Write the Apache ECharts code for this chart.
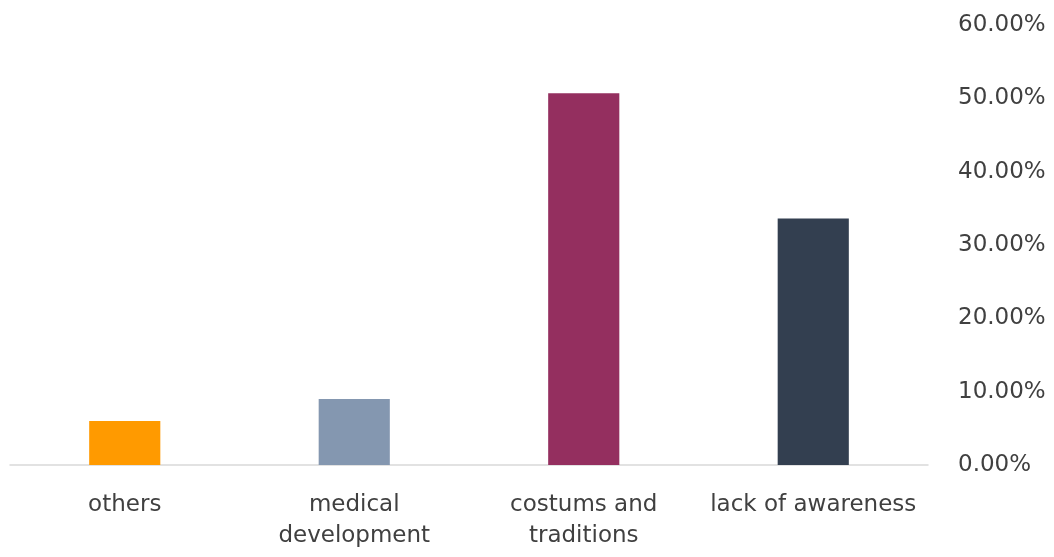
<!DOCTYPE html>
<html>
<head>
<meta charset="utf-8">
<style>
  html, body { margin: 0; padding: 0; background: #ffffff; }
  #chart { width: 1054px; height: 557px; }
</style>
<script src="https://cdn.jsdelivr.net/npm/echarts@6/dist/echarts.min.js"></script>
</head>
<body>
<div id="chart"></div>
<script>
// Reasons, share of answers (percent)
const categories = ['others', 'medical\ndevelopment', 'costums and\ntraditions', 'lack of awareness'];
const shares = [6.0, 9.0, 50.7, 33.6];
const barColors = ['#FF9A00', '#8497B0', '#942F5F', '#333F50'];
const yTicks = { min: 0, max: 60, step: 10 };

const chart = echarts.init(document.getElementById('chart'), null, { renderer: 'canvas' });
const font = '"DejaVu Sans", sans-serif';

chart.setOption({
  animation: false,
  backgroundColor: '#ffffff',
  grid: { left: 10, right: 126, top: 25, bottom: 92, containLabel: false },
  xAxis: {
    type: 'category',
    data: categories,
    axisLine: { show: true, lineStyle: { color: '#D9D9D9', width: 1.5 } },
    axisTick: { show: false },
    axisLabel: {
      color: '#404040',
      fontFamily: font,
      fontSize: 23,
      lineHeight: 31,
      margin: 25,
      interval: 0
    }
  },
  yAxis: {
    type: 'value',
    position: 'right',
    min: yTicks.min,
    max: yTicks.max,
    interval: yTicks.step,
    axisLine: { show: false },
    axisTick: { show: false },
    splitLine: { show: false },
    axisLabel: {
      color: '#404040',
      fontFamily: font,
      fontSize: 23,
      margin: 30,
      formatter: v => v.toFixed(2) + '%'
    }
  },
  series: [{
    type: 'bar',
    data: shares.map((v, i) => ({ value: v, itemStyle: { color: barColors[i] } })),
    barWidth: '31%'
  }]
});
</script>
</body>
</html>
